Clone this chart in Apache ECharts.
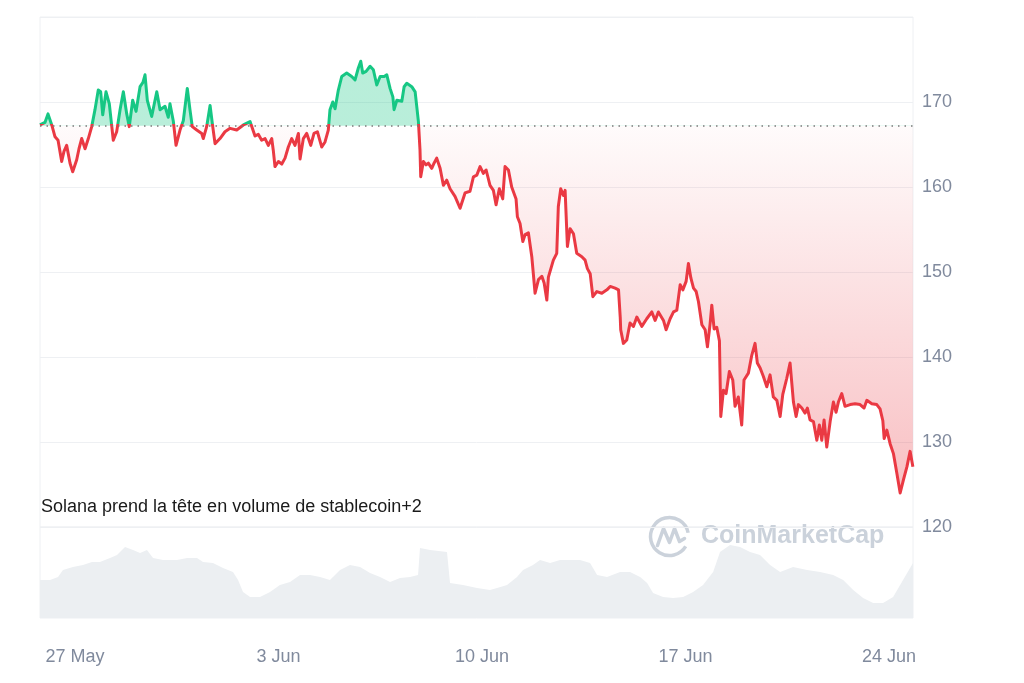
<!DOCTYPE html>
<html>
<head>
<meta charset="utf-8">
<script src="https://cdn.jsdelivr.net/npm/echarts@6/dist/echarts.min.js"></script>
<style>
html,body{margin:0;padding:0;background:#fff;}
#chart{width:1024px;height:683px;}
</style>
</head>
<body>
<div id="chart"></div>
<script>
// ---- data (hours since 27 May 00:00, price in USD) ----
const basePrice = 167.2;
const tickHours = [0, 168, 336, 504, 672];
const tickLabels = ['27 May', '3 Jun', '10 Jun', '17 Jun', '24 Jun'];
const priceTicks = [120, 130, 140, 150, 160, 170];
const axisStartHour = -28.9;
const axisEndHour = 691.8;

const price = [
[-28.9,167.3],[-27.5,167.4],[-24.8,167.6],[-22.3,168.6],[-19.2,167.3],[-16.5,165.9],[-14.0,165.5],[-11.0,163.0],
[-9.1,164.2],[-6.9,164.9],[-4.1,162.8],[-1.9,161.8],[1.4,163.2],[3.3,164.5],[5.5,165.7],[8.3,164.5],[11.0,165.7],
[13.8,167.1],[16.5,169.1],[19.2,171.4],[21.2,171.2],[22.9,168.5],[25.6,171.2],[28.3,169.8],[31.6,165.5],[34.4,166.5],
[37.2,169.1],[39.9,171.2],[42.7,168.6],[44.8,167.1],[47.6,170.2],[50.4,168.9],[53.7,171.8],[56.1,172.3],[57.8,173.2],
[59.7,170.2],[63.3,168.3],[67.5,171.2],[70.2,169.1],[74.3,169.5],[77.0,168.2],[78.4,169.8],[81.2,167.7],[83.4,164.9],
[86.7,166.7],[89.4,167.8],[92.7,171.6],[94.9,169.1],[96.8,167.1],[100.5,166.7],[104.6,166.3],[105.9,165.7],[108.7,167.1],
[111.5,169.6],[113.7,167.1],[115.6,165.1],[119.7,165.7],[123.8,166.5],[128.0,166.9],[133.5,166.7],[139.0,167.3],[144.5,167.7],
[148.6,166.0],[151.3,166.2],[154.1,165.5],[156.9,165.7],[159.6,164.9],[162.4,165.7],[163.7,164.3],[165.1,162.4],[167.9,163.0],
[170.7,162.7],[173.4,163.4],[176.1,164.7],[178.9,165.7],[181.6,164.9],[184.4,166.3],[185.8,163.3],[188.5,165.7],[191.3,166.3],
[194.6,164.9],[197.3,166.3],[200.1,166.5],[203.7,164.7],[206.4,165.3],[209.1,166.7],[210.5,169.1],[212.8,170.0],[214.7,169.2],
[217.4,171.4],[220.2,173.0],[224.3,173.4],[228.4,173.0],[231.2,172.6],[233.9,174.0],[235.9,174.8],[237.5,173.4],[240.3,173.6],
[243.6,174.2],[246.3,173.8],[249.1,172.0],[251.9,173.0],[255.2,173.0],[257.4,173.2],[260.1,171.6],[262.4,170.6],[263.4,169.1],
[265.7,170.2],[269.8,170.1],[271.7,171.8],[273.9,172.2],[278.0,171.8],[280.8,171.2],[283.5,167.7],[284.8,164.4],[285.4,161.2],
[287.6,163.0],[289.8,162.6],[291.7,162.8],[294.5,162.2],[296.4,162.8],[298.6,163.4],[301.4,162.2],[304.1,160.2],[306.9,160.8],
[309.6,159.8],[313.7,158.9],[317.9,157.5],[322.0,159.3],[326.1,159.5],[328.9,161.2],[331.7,161.4],[334.4,162.4],[337.1,161.6],
[339.4,162.0],[342.6,160.2],[345.4,159.6],[347.6,157.9],[350.3,159.8],[353.1,158.6],[355.0,162.4],[357.8,162.0],[360.5,160.0],
[364.1,158.6],[365.2,156.5],[367.4,155.7],[369.7,153.6],[371.6,154.4],[374.3,154.6],[377.1,151.8],[379.8,147.5],[382.6,149.1],
[385.4,149.5],[387.3,148.7],[389.5,146.7],[390.8,149.4],[394.9,151.4],[397.7,152.2],[399.0,157.7],[401.0,159.8],[403.2,159.0],
[404.6,159.6],[406.5,153.0],[408.7,155.1],[411.5,154.5],[414.2,152.2],[418.4,151.8],[421.1,151.4],[423.0,150.4],[425.3,149.8],
[427.5,147.1],[430.8,147.7],[434.9,147.5],[439.1,147.9],[441.8,148.3],[445.9,148.1],[448.7,147.9],[450.1,144.7],[450.5,143.2],
[452.7,141.6],[455.5,142.0],[458.2,144.0],[461.0,143.6],[463.8,144.7],[467.9,143.6],[472.0,144.5],[476.2,145.3],[478.9,144.3],
[481.6,145.3],[485.8,144.3],[488.0,143.2],[491.3,144.5],[494.1,145.3],[496.8,145.5],[499.6,148.5],[501.8,147.9],[504.5,148.9],
[506.4,151.0],[508.4,149.3],[510.6,148.1],[512.8,147.7],[514.7,146.5],[517.5,143.8],[520.2,143.2],[522.1,141.2],[524.3,143.9],
[525.7,146.1],[527.6,143.3],[529.8,143.5],[532.0,141.9],[533.1,133.0],[535.3,136.1],[537.5,135.7],[540.2,138.3],[543.0,137.3],
[544.9,134.2],[547.6,135.3],[550.4,132.0],[552.3,137.3],[555.9,138.1],[558.7,140.2],[561.4,141.6],[563.3,139.3],[565.6,138.7],
[568.3,137.7],[571.1,136.5],[573.8,137.9],[576.5,135.3],[579.4,134.9],[582.1,133.0],[584.3,135.6],[587.6,137.5],[590.3,139.3],
[593.1,134.7],[595.3,133.0],[597.2,134.4],[600.0,134.0],[602.7,133.4],[604.6,134.0],[606.8,132.6],[609.6,132.4],[612.4,130.2],
[614.5,132.0],[616.5,130.2],[618.4,132.6],[620.6,129.4],[623.4,132.4],[626.1,134.7],[628.3,133.5],[630.2,134.7],[633.0,135.7],
[635.7,134.2],[639.9,134.4],[644.0,134.5],[648.1,134.4],[651.4,134.0],[653.7,134.9],[657.8,134.5],[661.9,134.4],[664.6,133.9],
[666.9,132.5],[668.0,130.4],[670.2,131.4],[672.9,129.8],[675.7,128.6],[678.5,126.3],[681.2,124.0],[684.0,125.6],[686.8,127.1],
[689.4,128.9],[691.7,127.1]
];

const volume = [
[-28.9,41.8],[-20.6,41.8],[-14.0,45.1],[-9.9,52.8],[-1.7,56.1],[6.6,58.3],[14.0,61.6],[20.6,61.6],[28.9,66],[34.7,69.3],
[41.3,78.1],[47.9,74.8],[53.7,71.5],[59.4,74.8],[64.4,66],[72.7,63.8],[84.2,63.8],[92.5,66],[100.7,66],[105.7,61.6],
[113.9,60.5],[122.2,55],[130.4,50.6],[134.6,41.8],[138.7,28.6],[144.5,23.1],[152.7,23.1],[161.0,28.6],[169.2,36.3],
[177.5,39.6],[185.8,47.3],[194.0,47.3],[202.3,45.1],[210.5,41.8],[218.8,52.8],[227.0,58.3],[235.3,56.1],[243.6,49.5],
[251.8,45.1],[260.1,39.6],[268.3,44],[276.6,45.1],[283.2,47.3],[284.8,77],[293.1,74.8],[307.1,72.6],[309.6,38.5],
[320.3,36.3],[331.9,33],[342.6,30.8],[348.4,33],[356.7,36.3],[364.9,45.1],[369.9,52.8],[378.1,58.3],[383.9,63.8],
[392.2,60.5],[400.4,63.8],[408.7,63.8],[416.9,63.8],[425.2,60.5],[431.0,47.3],[439.2,45.1],[450.0,50.6],[458.2,50.6],
[466.5,45.1],[472.3,38.5],[477.2,27.5],[485.5,23.1],[493.7,22],[502.0,23.1],[510.3,28.6],[518.5,36.3],[526.8,50.6],
[532.5,72.6],[540.8,80.3],[549.0,78.1],[557.3,72.6],[565.5,69.3],[573.8,58.3],[582.1,50.6],[592.8,56.1],[604.4,52.8],
[615.1,50.6],[625.9,47.3],[634.1,41.8],[642.4,30.8],[650.6,22],[658.9,16.5],[667.1,16.5],[675.4,23.1],[683.6,41.8],[691.8,60.5]
];

// ---- styling ----
const GREEN = '#16c784';
const RED = '#ea3943';
const FONT = '"Liberation Sans", Arial, sans-serif';
const LABEL = '#808a9d';
const GRIDC = '#eef0f3';

const vals = price.map(p => p[1]);
const dMax = Math.max(...vals);
const dMin = Math.min(...vals);
// fraction (from top of bounding box) where the opening price lies
const fracLine = (dMax - basePrice) / (dMax - dMin);
const aMax = Math.max(dMax, basePrice), aMin = Math.min(dMin, basePrice);
const fracArea = (aMax - basePrice) / (aMax - aMin);

const lineColor = new echarts.graphic.LinearGradient(0, 0, 0, 1, [
  {offset: 0, color: GREEN},
  {offset: fracLine, color: GREEN},
  {offset: fracLine, color: RED},
  {offset: 1, color: RED}
]);
const areaColor = new echarts.graphic.LinearGradient(0, 0, 0, 1, [
  {offset: 0, color: 'rgba(22,199,132,0.30)'},
  {offset: fracArea, color: 'rgba(22,199,132,0.30)'},
  {offset: fracArea, color: 'rgba(234,57,67,0.02)'},
  {offset: 1, color: 'rgba(234,57,67,0.32)'}
]);

const chart = echarts.init(document.getElementById('chart'), null, {renderer: 'canvas'});
chart.setOption({
  animation: false,
  backgroundColor: '#ffffff',
  grid: [
    {left: 40, right: 111, top: 17, height: 510, show: true, borderColor: GRIDC, borderWidth: 1},
    {left: 40, right: 111, top: 527, height: 91, show: true, borderColor: GRIDC, borderWidth: 1}
  ],
  xAxis: [
    {type: 'value', gridIndex: 0, min: axisStartHour, max: axisEndHour, show: false},
    {type: 'value', gridIndex: 1, min: axisStartHour, max: axisEndHour,
     axisLine: {show: false}, axisTick: {show: false}, splitLine: {show: false},
     axisLabel: {
       customValues: tickHours,
       margin: 30,
       color: LABEL, fontSize: 18, fontFamily: FONT,
       formatter: v => tickLabels[tickHours.indexOf(Math.round(v))] || ''
     }}
  ],
  yAxis: [
    {type: 'value', gridIndex: 0, position: 'right', min: 120, max: 180, interval: 10,
     axisLine: {show: false}, axisTick: {show: false},
     splitLine: {show: true, lineStyle: {color: GRIDC, width: 1}},
     axisLabel: {margin: 9, color: LABEL, fontSize: 18, fontFamily: FONT,
       formatter: v => priceTicks.indexOf(v) >= 0 ? String(v) : ''}},
    {type: 'value', gridIndex: 1, min: 0, max: 100, show: false}
  ],
  series: [
    {
      type: 'line', xAxisIndex: 1, yAxisIndex: 1, data: volume, symbol: 'none',
      lineStyle: {width: 0},
      areaStyle: {color: '#eceff2', opacity: 1},
      silent: true, z: 1
    },
    {
      type: 'line', xAxisIndex: 0, yAxisIndex: 0, data: price, symbol: 'none',
      lineStyle: {width: 0, opacity: 0},
      areaStyle: {origin: basePrice, color: areaColor, opacity: 1},
      silent: true, z: 1
    },
    {
      type: 'line', xAxisIndex: 0, yAxisIndex: 0, data: price, symbol: 'none',
      color: RED,
      lineStyle: {width: 3, join: 'round', color: lineColor},
      z: 3,
      markLine: {
        silent: true, symbol: ['none', 'none'], label: {show: false},
        lineStyle: {type: [1.5, 5], color: '#7a7a7a', width: 1.5},
        data: [{yAxis: basePrice}]
      }
    }
  ],
  graphic: [
    {type: 'text', left: 41, top: 498,
     style: {text: 'Solana prend la tête en volume de stablecoin+2', fill: '#1a1a1a', font: '18px ' + FONT}},
    {type: 'group', left: 648, top: 515, children: [
      {type: 'arc', shape: {cx: 20, cy: 20, r: 19, startAngle: 0.55, endAngle: Math.PI * 2 - 0.2},
       style: {stroke: '#cbd2db', lineWidth: 3.5, fill: null}},
      {type: 'polyline', shape: {points: [[8, 29], [14, 12], [20, 26], [25, 12], [30, 25], [35, 22]]},
       style: {stroke: '#cbd2db', lineWidth: 3.5, fill: null, lineJoin: 'round', lineCap: 'round'}}
    ]},
    {type: 'text', left: 701, top: 524,
     style: {text: 'CoinMarketCap', fill: '#cbd2db', font: 'bold 25px ' + FONT}}
  ]
});
</script>
</body>
</html>
